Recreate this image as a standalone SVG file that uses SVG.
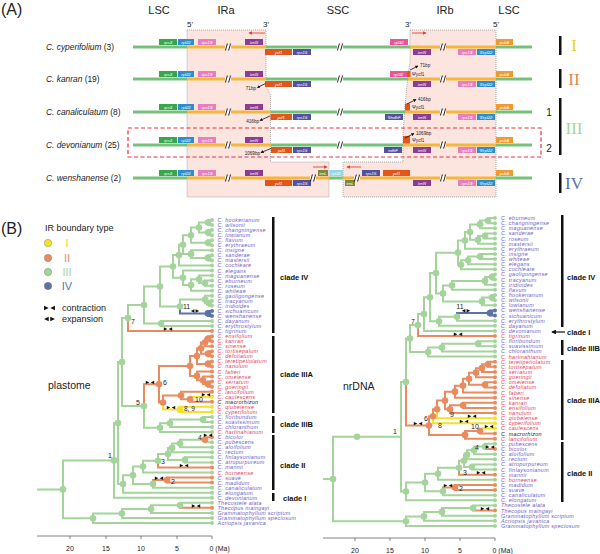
<svg xmlns="http://www.w3.org/2000/svg" width="600" height="554" viewBox="0 0 600 554">
<defs>
<style>
text{font-family:"Liberation Sans",Arial,sans-serif}
.hd{font-size:16px;fill:#222}
.reg{font-size:11px;fill:#222;text-anchor:middle}
.end{font-size:8px;fill:#222;text-anchor:middle}
.sp{font-size:8.4px;fill:#222}
.gt{font-size:4.2px;fill:#fff;font-style:italic;text-anchor:middle}
.ann{font-size:4.6px;fill:#222}
.lg{stroke:#76c17a;stroke-width:3.2;fill:none}
.lo{stroke:#f5b63c;stroke-width:3.2;fill:none}
.ir{fill:#fce4df;stroke:#8a8a8a;stroke-width:0.7;stroke-dasharray:1 1}
.brk{stroke:#111;stroke-width:0.9}
.c3{fill:#36a849}.c22{fill:#2b8fcf}.c19{fill:#e67fc0}.cN{fill:#8a3c96}.cy{fill:#e2561b}
.c15{fill:#5452a0}.c32{fill:#e9559a}.c32b{fill:#96d6ea}.cA{fill:#f39a2e}.cL{fill:#7b8a3a}
.ba{stroke:#111;stroke-width:0.8;fill:none;marker-end:url(#ab)}
.ra{stroke:#e8403a;stroke-width:0.9;fill:none;marker-end:url(#ar)}
.bar{fill:#111}
.rom{font-family:"Liberation Serif",serif;font-size:17px;text-anchor:middle}
.tg{stroke:#a4d49c;stroke-width:2;fill:none}
.to{stroke:#e98b5f;stroke-width:2;fill:none}
.ty{stroke:#f6e02a;stroke-width:2;fill:none}
.tb{stroke:#5a72a5;stroke-width:2;fill:none}
.dg{fill:#a4d49c}.do{fill:#e98b5f}.dy{fill:#f6e02a}.db{fill:#5a72a5}
.tl{font-size:5.4px;font-style:italic;letter-spacing:0.3px}
.pu{fill:#6d62c6}.rd{fill:#e5405a}.bk{fill:#222}
.num{font-size:7px;fill:#222;text-anchor:middle}
.cl{font-size:7.5px;font-weight:bold;fill:#111}
.ax{stroke:#666;stroke-width:0.8;fill:none}
.axt{font-size:7px;fill:#222;text-anchor:middle}
.lab{font-size:10.5px;fill:#222}
</style>
<marker id="ab" viewBox="0 0 6 6" refX="5" refY="3" markerWidth="4" markerHeight="4" orient="auto"><path d="M0,0L6,3L0,6z" fill="#111"/></marker>
<marker id="ar" viewBox="0 0 6 6" refX="5" refY="3" markerWidth="4" markerHeight="4" orient="auto"><path d="M0,0L6,3L0,6z" fill="#e8403a"/></marker>
<g id="con"><path d="M-4.2,-1.7L-0.6,0L-4.2,1.7zM4.2,-1.7L0.6,0L4.2,1.7z" fill="#111"/></g>
<g id="exp"><path d="M-0.6,-1.7L-4.2,0L-0.6,1.7zM0.6,-1.7L4.2,0L0.6,1.7z" fill="#111"/></g>
<g id="brk"><rect x="-3" y="-2" width="6" height="4" fill="#fff"/><path class="brk" d="M-2.6,3.5L-0.6,-3.5M0.6,3.5L2.6,-3.5"/></g>
<g id="common">
<rect class="c3" x="159" y="-8" width="18" height="6"/><text class="gt" x="168" y="-3.5">rps3</text>
<rect class="c22" x="178" y="-8" width="16" height="6"/><text class="gt" x="186" y="-3.5">rpl22</text>
<rect class="c19" x="198" y="-8" width="18" height="6"/><text class="gt" x="207" y="-3.5">rps19</text>
<rect class="cN" x="245" y="-8" width="18" height="6"/><text class="gt" x="254" y="-3.5">trnN</text>
<rect class="cN" x="413" y="2" width="18" height="6"/><text class="gt" x="422" y="6.5">trnN</text>
<rect class="c19" x="458" y="2" width="18" height="6"/><text class="gt" x="467" y="6.5">rps19</text>
<rect class="c22" x="477" y="2" width="18" height="6"/><text class="gt" x="486" y="6.5">Ψrpl22</text>
<rect class="cA" x="496" y="-8" width="17" height="6"/><text class="gt" x="504.5" y="-3.5">psbA</text>
<use href="#brk" x="228" y="0"/><use href="#brk" x="443" y="0"/>
</g>
</defs>
<rect width="600" height="554" fill="#fff"/>

<g id="panelA">
<text class="hd" x="1" y="15">(A)</text>
<text class="reg" x="159" y="14">LSC</text>
<text class="reg" x="226" y="14">IRa</text>
<text class="reg" x="338" y="14">SSC</text>
<text class="reg" x="445" y="14">IRb</text>
<text class="reg" x="509" y="14">LSC</text>
<text class="end" x="190" y="27">5'</text>
<text class="end" x="266" y="27">3'</text>
<text class="end" x="408" y="27">3'</text>
<text class="end" x="496" y="27">5'</text>
<polygon id="IRa" class="ir" points="187,30 266,30 266,86 270.5,95 270.5,162 329,162 329,197 187,197"/>
<polygon id="IRb" class="ir" points="410,30 496,30 496,197 343,197 343,162 403,162 403,135 405,105 408,75 410,62"/>
<rect x="128" y="128" width="413" height="29" fill="none" stroke="#e8323c" stroke-width="1.2" stroke-dasharray="4 2.5"/>
<g id="redarrows">
<path class="ra" d="M265,33H249"/><path class="ra" d="M412,33H426"/>
<path class="ra" d="M313,167H327"/><path class="ra" d="M361,167H347"/>
</g>

<g id="row1" transform="translate(0,47)">
<path class="lg" d="M133,0H187M266,0H410M496,0H532"/><path class="lo" d="M187,0H266M410,0H496"/>
<use href="#common"/>
<rect class="cy" x="265" y="2" width="27" height="6"/><text class="gt" x="278.5" y="6.5">ycf1</text>
<rect class="c15" x="293" y="2" width="18" height="6"/><text class="gt" x="302" y="6.5">rps15</text>
<rect class="c32" x="390" y="-8" width="18" height="6"/><text class="gt" x="399" y="-3.5">rpl32</text>
<use href="#brk" x="340" y="0"/>
<text class="sp" x="46" y="2.8"><tspan font-style="italic">C. cyperifolium</tspan> (3)</text>
</g>
<g id="row2" transform="translate(0,79)">
<path class="lg" d="M133,0H187M266,0H408M496,0H532"/><path class="lo" d="M187,0H266M408,0H496"/>
<use href="#common"/>
<rect class="cy" x="265" y="2" width="27" height="6"/><text class="gt" x="278.5" y="6.5">ycf1</text>
<rect class="c15" x="293" y="2" width="18" height="6"/><text class="gt" x="302" y="6.5">rps15</text>
<rect class="c32" x="390" y="-8" width="17" height="6"/><text class="gt" x="398.5" y="-3.5">rpl32</text>
<rect class="cy" x="407" y="-8" width="3.5" height="6"/>
<use href="#brk" x="340" y="0"/>
<path class="ba" d="M265.5,4.5L257.5,8.5"/><text class="ann" x="256" y="10.5" text-anchor="end">71bp</text>
<path class="ba" d="M410,-9L418,-13"/><text class="ann" x="420" y="-12">71bp</text>
<text class="ann" x="412" y="-3.5">Ψycf1</text>
<text class="sp" x="46" y="2.8"><tspan font-style="italic">C. kanran</tspan> (19)</text>
</g>
<g id="row3" transform="translate(0,112)">
<path class="lg" d="M133,0H187M270.5,0H405M496,0H532"/><path class="lo" d="M187,0H270.5M405,0H496"/>
<use href="#common"/>
<rect class="cy" x="270.5" y="2" width="21.5" height="6"/><text class="gt" x="281" y="6.5">ycf1</text>
<rect class="c15" x="293" y="2" width="18" height="6"/><text class="gt" x="302" y="6.5">rps15</text>
<rect class="c15" x="385" y="2" width="18" height="6"/><text class="gt" x="394" y="6.5">ΨndhF</text>
<rect class="cy" x="405" y="-8.5" width="5" height="7"/>
<use href="#brk" x="340" y="0"/>
<path class="ba" d="M270,4L260,8.5"/><text class="ann" x="259" y="10.5" text-anchor="end">416bp</text>
<path class="ba" d="M407,-8L416,-12.5"/><text class="ann" x="418" y="-11.5">416bp</text>
<text class="ann" x="412" y="-3">Ψycf1</text>
<text class="sp" x="46" y="2.8"><tspan font-style="italic">C. canaliculatum</tspan> (8)</text>
</g>
<g id="row4" transform="translate(0,145)">
<path class="lg" d="M133,0H187M271,0H403M496,0H532"/><path class="lo" d="M187,0H271M403,0H496"/>
<use href="#common"/>
<rect class="cy" x="271" y="2" width="21" height="6"/><text class="gt" x="281.5" y="6.5">ycf1</text>
<rect class="c15" x="293" y="2" width="18" height="6"/><text class="gt" x="302" y="6.5">rps15</text>
<rect class="c15" x="384" y="2" width="18" height="6"/><text class="gt" x="393" y="6.5">ndhF</text>
<rect class="cy" x="403" y="-9" width="7" height="7.5"/>
<use href="#brk" x="340" y="0"/>
<path class="ba" d="M271,3.5L261,7.5"/><text class="ann" x="260" y="9.5" text-anchor="end">1069bp</text>
<path class="ba" d="M405,-7L414,-11.5"/><text class="ann" x="416" y="-10.5">1069bp</text>
<text class="ann" x="412" y="-3.5">Ψycf1</text>
<text class="sp" x="46" y="2.8"><tspan font-style="italic">C. devonianum</tspan> (25)</text>
</g>
<g id="row5" transform="translate(0,178)">
<path class="lg" d="M133,0H187M329,0H343M496,0H532"/><path class="lo" d="M187,0H329M343,0H496"/>
<use href="#common"/>
<rect class="cy" x="265" y="2" width="27" height="6"/><text class="gt" x="278.5" y="6.5">ycf1</text>
<rect class="c15" x="293" y="2" width="18" height="6"/><text class="gt" x="302" y="6.5">rps15</text>
<rect class="cL" x="318" y="-8" width="10" height="6"/><text class="gt" x="323" y="-3.5">trnL</text>
<rect class="c32b" x="329.5" y="-8" width="13.5" height="6"/><text class="gt" x="336" y="-3.5">rpl32</text>
<rect class="cL" x="345" y="2" width="10" height="6"/><text class="gt" x="350" y="6.5">trnL</text>
<rect class="c15" x="362" y="-8" width="18" height="6"/><text class="gt" x="371" y="-3.5">rps15</text>
<rect class="cy" x="383" y="-8" width="27" height="6"/><text class="gt" x="396.5" y="-3.5">ycf1</text>
<use href="#brk" x="313" y="0"/><use href="#brk" x="357" y="0"/>
<text class="sp" x="46" y="2.8"><tspan font-style="italic">C. wenshanense</tspan> (2)</text>
</g>
<g id="typebars">
<rect class="bar" x="559" y="36" width="2.5" height="19"/>
<rect class="bar" x="559" y="69" width="2.5" height="19"/>
<rect class="bar" x="559" y="98" width="2.5" height="57"/>
<rect class="bar" x="559" y="173" width="2.5" height="20"/>
<text class="rom" x="574" y="51" fill="#efd21c">I</text>
<text class="rom" x="574" y="85" fill="#e8844c">II</text>
<text class="rom" x="574" y="134" fill="#a5d6a0">III</text>
<text class="rom" x="574" y="189" fill="#5b72a8">IV</text>
<text x="549" y="116" font-size="10" fill="#222" text-anchor="middle">1</text>
<text x="549" y="152" font-size="10" fill="#222" text-anchor="middle">2</text>
</g>
</g>

<g id="legendB">
<text class="hd" x="1" y="234">(B)</text>
<text x="45" y="231" font-size="9" fill="#222">IR boundary type</text>
<circle cx="48" cy="243" r="3.7" fill="#f6e02a" stroke="#777" stroke-width="0.4"/>
<circle cx="48" cy="258" r="3.7" fill="#e98b5f" stroke="#777" stroke-width="0.4"/>
<circle cx="48" cy="272" r="3.7" fill="#a4d49c" stroke="#777" stroke-width="0.4"/>
<circle cx="48" cy="286" r="3.7" fill="#5a72a5" stroke="#777" stroke-width="0.4"/>
<text x="67" y="247" font-size="11" fill="#f0d21c" text-anchor="middle">I</text>
<text x="67" y="262" font-size="11" fill="#e98b5f" text-anchor="middle">II</text>
<text x="67" y="276" font-size="11" fill="#a4d49c" text-anchor="middle">III</text>
<text x="67" y="290" font-size="11" fill="#5a72a5" text-anchor="middle">IV</text>
<use href="#con" transform="translate(49.5,308) scale(1.3)"/>
<text x="62" y="311" font-size="9" fill="#222">contraction</text>
<use href="#exp" transform="translate(49.5,319) scale(1.3)"/>
<text x="62" y="322" font-size="9" fill="#222">expansion</text>
<text class="lab" x="48" y="389">plastome</text>
<text class="lab" x="343" y="390">nrDNA</text>
</g>

<g id="plastomeTree">
<g id="lt-connectors">
<path class="tg" d="M212 220H208V225.05H212M212 230.1H208V235.15H212M208 222.5H199V232.6H208M212 240.2H208V245.25H212M199 227.6H191V242.7H208M212 255.35H208V260.4H212M212 250.3H191V257.9H208M191 235.2H183V254.1H191M183 244.7H179V265.45H212M212 280.6H205V285.65H212M212 275.55H199V283.1H205M199 279.3H191V290.7H212M212 270.5H183V285H191M179 255.1H173V277.8H183M212 300.8H209V305.85H212M212 295.75H205V303.3H209M205 299.5H180V306.5M173 266.5H160V306.5H180M212 321H161V326.05H212M160 286.5H144V323.5H161M144 305H128V318.1M144 406V427.7H160M212 416.95H203V422H212M203 419.5H170V427.05H212M170 423.3H160V432.1H212M128 318.1H122V406H144M205 439.7V442.2H212M205 439.7H180V447.25H212M180 443.5H172V452.3H212M212 457.35H185V462.4H212M172 447.9H168V459.9H185M168 453.9H158V460.7M158 460.7H143V472.5H212M153 483.9V487.65H212M143 466.6H133V483.9H153M133 475.3H123V492.7H212M122 362H118V484H123M118 423H114V497.75H212M212 502.8H180V505.3M180 505.3H151V512.9H212M151 509.1H122V517.95H212M122 513.5H93V523H212M114 460.4H63V518.3H93M37 489.4H63"/>
<path class="tb" d="M180 306.5V313.4H208M212 310.9H208V315.95H212"/>
<path class="to" d="M128 318.1V331.1H212M212 336.15H208V341.2H212M208 338.7H205V346.25H212M212 351.3H208V356.35H212M205 342.5H201V353.8H208M212 361.4H208V366.45H212M201 348.2H197V363.9H208M212 381.6H208V386.65H212M212 376.55H203V384.1H208M212 371.5H197V380.3H203M197 356H190V375.9H197M190 399.3V401.8H212M212 391.7H181V399.3H190M181 395.5H163V402.5M190 366H159V402.5H163M159 384.2H144V406M212 437.15H205V439.7M158 460.7V467.45H212M212 477.55H167V482.6H212M167 480.1H153V483.9M180 505.3V507.85H212"/>
<path class="ty" d="M212 396.75H190V399.3M212 406.85H180V411.9H212M163 402.5V409.4H180"/>
</g>
<g id="lt-nodes">
<g class="dg">
<circle cx="208" cy="222.5" r="3.3"/><circle cx="208" cy="232.6" r="3.3"/><circle cx="199" cy="227.6" r="3.3"/><circle cx="208" cy="242.7" r="3.3"/><circle cx="191" cy="235.2" r="3.3"/><circle cx="208" cy="257.9" r="3.3"/><circle cx="191" cy="254.1" r="3.3"/><circle cx="183" cy="244.7" r="3.3"/><circle cx="179" cy="255.1" r="3.3"/><circle cx="205" cy="283.1" r="3.3"/><circle cx="199" cy="279.3" r="3.3"/><circle cx="191" cy="285" r="3.3"/><circle cx="183" cy="277.8" r="3.3"/><circle cx="173" cy="266.5" r="3.3"/><circle cx="209" cy="303.3" r="3.3"/><circle cx="205" cy="299.5" r="3.3"/><circle cx="180" cy="306.5" r="3.3"/><circle cx="160" cy="286.5" r="3.3"/><circle cx="161" cy="323.5" r="3.3"/><circle cx="144" cy="305" r="3.3"/><circle cx="128" cy="318.1" r="3.3"/>
<circle cx="203" cy="419.5" r="3.3"/><circle cx="170" cy="423.3" r="3.3"/><circle cx="160" cy="427.7" r="3.3"/><circle cx="144" cy="406" r="3.3"/><circle cx="122" cy="362" r="3.3"/>
<circle cx="180" cy="443.5" r="3.3"/><circle cx="172" cy="447.9" r="3.3"/><circle cx="185" cy="459.9" r="3.3"/><circle cx="168" cy="453.9" r="3.3"/><circle cx="158" cy="460.7" r="3.3"/><circle cx="143" cy="466.6" r="3.3"/><circle cx="153" cy="483.9" r="3.3"/><circle cx="133" cy="475.3" r="3.3"/><circle cx="123" cy="484" r="3.3"/><circle cx="118" cy="423" r="3.3"/><circle cx="114" cy="460.4" r="3.3"/>
<circle cx="180" cy="505.3" r="3.3"/><circle cx="151" cy="509.1" r="3.3"/><circle cx="122" cy="513.5" r="3.3"/><circle cx="93" cy="518.3" r="3.3"/><circle cx="63" cy="489.4" r="3.3"/>
</g>
<g class="do">
<circle cx="208" cy="338.7" r="3.3"/><circle cx="205" cy="342.5" r="3.3"/><circle cx="208" cy="353.8" r="3.3"/><circle cx="201" cy="348.2" r="3.3"/><circle cx="208" cy="363.9" r="3.3"/><circle cx="197" cy="356" r="3.3"/><circle cx="208" cy="384.1" r="3.3"/><circle cx="203" cy="380.3" r="3.3"/><circle cx="197" cy="375.9" r="3.3"/><circle cx="190" cy="366" r="3.3"/><circle cx="190" cy="399.3" r="3.3"/><circle cx="181" cy="395.5" r="3.3"/><circle cx="163" cy="402.5" r="3.3"/><circle cx="159" cy="384.2" r="3.3"/><circle cx="167" cy="480.1" r="3.3"/><circle cx="205" cy="439.7" r="3.3"/>
</g>
<circle class="dy" cx="180" cy="409.4" r="3.3"/>
<circle class="db" cx="208" cy="313.4" r="3.3"/>
</g>
<g id="lt-tipdots">
<g class="dg"><circle cx="212" cy="220" r="2"/><circle cx="212" cy="225.05" r="2"/><circle cx="212" cy="230.1" r="2"/><circle cx="212" cy="235.15" r="2"/><circle cx="212" cy="240.2" r="2"/><circle cx="212" cy="245.25" r="2"/><circle cx="212" cy="250.3" r="2"/><circle cx="212" cy="255.35" r="2"/><circle cx="212" cy="260.4" r="2"/><circle cx="212" cy="265.45" r="2"/><circle cx="212" cy="270.5" r="2"/><circle cx="212" cy="275.55" r="2"/><circle cx="212" cy="280.6" r="2"/><circle cx="212" cy="285.65" r="2"/><circle cx="212" cy="290.7" r="2"/><circle cx="212" cy="295.75" r="2"/><circle cx="212" cy="300.8" r="2"/><circle cx="212" cy="305.85" r="2"/><circle cx="212" cy="321" r="2"/><circle cx="212" cy="326.05" r="2"/><circle cx="212" cy="416.95" r="2"/><circle cx="212" cy="422" r="2"/><circle cx="212" cy="427.05" r="2"/><circle cx="212" cy="432.1" r="2"/><circle cx="212" cy="442.2" r="2"/><circle cx="212" cy="447.25" r="2"/><circle cx="212" cy="452.3" r="2"/><circle cx="212" cy="457.35" r="2"/><circle cx="212" cy="462.4" r="2"/><circle cx="212" cy="472.5" r="2"/><circle cx="212" cy="487.65" r="2"/><circle cx="212" cy="492.7" r="2"/><circle cx="212" cy="497.75" r="2"/><circle cx="212" cy="502.8" r="2"/><circle cx="212" cy="512.9" r="2"/><circle cx="212" cy="517.95" r="2"/><circle cx="212" cy="523" r="2"/></g>
<g class="do"><circle cx="212" cy="331.1" r="2"/><circle cx="212" cy="336.15" r="2"/><circle cx="212" cy="341.2" r="2"/><circle cx="212" cy="346.25" r="2"/><circle cx="212" cy="351.3" r="2"/><circle cx="212" cy="356.35" r="2"/><circle cx="212" cy="361.4" r="2"/><circle cx="212" cy="366.45" r="2"/><circle cx="212" cy="371.5" r="2"/><circle cx="212" cy="376.55" r="2"/><circle cx="212" cy="381.6" r="2"/><circle cx="212" cy="386.65" r="2"/><circle cx="212" cy="391.7" r="2"/><circle cx="212" cy="401.8" r="2"/><circle cx="212" cy="437.15" r="2"/><circle cx="212" cy="467.45" r="2"/><circle cx="212" cy="477.55" r="2"/><circle cx="212" cy="482.6" r="2"/><circle cx="212" cy="507.85" r="2"/></g>
<g class="dy"><circle cx="212" cy="396.75" r="2"/><circle cx="212" cy="406.85" r="2"/><circle cx="212" cy="411.9" r="2"/></g>
<g class="db"><circle cx="212" cy="310.9" r="2"/><circle cx="212" cy="315.95" r="2"/></g>
</g>
<g id="lt-marks">
<use href="#con" x="168" y="329"/><use href="#exp" x="195" y="311"/><use href="#con" x="150" y="382.4"/><use href="#con" x="171" y="407.6"/><use href="#con" x="206" y="394.8"/><use href="#con" x="208" y="435.3"/><use href="#con" x="184" y="465.6"/><use href="#con" x="159" y="478.3"/><use href="#con" x="196" y="506"/>
<text class="num" x="110" y="458">1</text><text class="num" x="138" y="405">5</text><text class="num" x="165" y="384.5">6</text><text class="num" x="133" y="323.5">7</text><text x="184" y="410.8" font-size="6.5" fill="#222">8, 9</text><text class="num" x="199" y="401.5">10</text><text x="183" y="308.5" font-size="7" fill="#222">11</text><text class="num" x="200" y="439.5">4</text><text class="num" x="163" y="464">3</text><text class="num" x="173" y="483.5">2</text>
</g>
<g id="lt-tips" class="tl">
<text class="pu" x="217.5" y="222">C. hookerianum</text>
<text class="pu" x="217.5" y="227.05">C. wilsonii</text>
<text class="pu" x="217.5" y="232.1">C. changningense</text>
<text class="pu" x="217.5" y="237.15">C. lowianum</text>
<text class="pu" x="217.5" y="242.2">C. flavum</text>
<text class="pu" x="217.5" y="247.25">C. erythraeum</text>
<text class="pu" x="217.5" y="252.3">C. insigne</text>
<text class="pu" x="217.5" y="257.35">C. sanderae</text>
<text class="pu" x="217.5" y="262.4">C. mastersii</text>
<text class="pu" x="217.5" y="267.45">C. cochleare</text>
<text class="pu" x="217.5" y="272.5">C. elegans</text>
<text class="pu" x="217.5" y="277.55">C. maguanense</text>
<text class="pu" x="217.5" y="282.6">C. eburneum</text>
<text class="pu" x="217.5" y="287.65">C. roseum</text>
<text class="pu" x="217.5" y="292.7">C. whiteae</text>
<text class="pu" x="217.5" y="297.75">C. gaoligongense</text>
<text class="pu" x="217.5" y="302.8">C. tracyanum</text>
<text class="pu" x="217.5" y="307.85">C. iridioides</text>
<text class="pu" x="217.5" y="312.9">C. sichuanicum</text>
<text class="pu" x="217.5" y="317.95">C. wenshanense</text>
<text class="pu" x="217.5" y="323">C. dayanum</text>
<text class="pu" x="217.5" y="328.05">C. erythrostylum</text>
<text class="pu" x="217.5" y="333.1">C. tigrinum</text>
<text class="rd" x="217.5" y="338.15">C. ensifolium</text>
<text class="rd" x="217.5" y="343.2">C. kanran</text>
<text class="rd" x="217.5" y="348.25">C. sinense</text>
<text class="rd" x="217.5" y="353.3">C. tortisepalum</text>
<text class="rd" x="217.5" y="358.35">C. defoliatum</text>
<text class="rd" x="217.5" y="363.4">C. teretipetiolatum</text>
<text class="rd" x="217.5" y="368.45">C. nanulum</text>
<text class="rd" x="217.5" y="373.5">C. faberi</text>
<text class="rd" x="217.5" y="378.55">C. omeiense</text>
<text class="rd" x="217.5" y="383.6">C. serratum</text>
<text class="rd" x="217.5" y="388.65">C. goeringii</text>
<text class="rd" x="217.5" y="393.7">C. lancifolium</text>
<text class="rd" x="217.5" y="398.75">C. caulescens</text>
<text class="bk" x="217.5" y="403.8">C. macrorhizon</text>
<text class="rd" x="217.5" y="408.85">C. qiubeiense</text>
<text class="rd" x="217.5" y="413.9">C. cyperifolium</text>
<text class="pu" x="217.5" y="418.95">C. floribundum</text>
<text class="pu" x="217.5" y="424">C. suavissimum</text>
<text class="pu" x="217.5" y="429.05">C. chloranthum</text>
<text class="rd" x="217.5" y="434.1">C. hartinahianum</text>
<text class="pu" x="217.5" y="439.15">C. bicolor</text>
<text class="pu" x="217.5" y="444.2">C. pubescens</text>
<text class="pu" x="217.5" y="449.25">C. aloifolium</text>
<text class="pu" x="217.5" y="454.3">C. rectum</text>
<text class="pu" x="217.5" y="459.35">C. finlaysonianum</text>
<text class="pu" x="217.5" y="464.4">C. atropurpureum</text>
<text class="pu" x="217.5" y="469.45">C. mannii</text>
<text class="rd" x="217.5" y="474.5">C. borneense</text>
<text class="pu" x="217.5" y="479.55">C. suave</text>
<text class="pu" x="217.5" y="484.6">C. madidum</text>
<text class="pu" x="217.5" y="489.65">C. canaliculatum</text>
<text class="pu" x="217.5" y="494.7">C. elongatum</text>
<text class="pu" x="217.5" y="499.75">C. devonianum</text>
<text class="pu" x="217.5" y="504.8">Thecostele alata</text>
<text class="pu" x="217.5" y="509.85">Thecopus maingayi</text>
<text class="pu" x="217.5" y="514.9">Grammatophyllum scriptum</text>
<text class="pu" x="217.5" y="519.95">Grammatophyllum speciosum</text>
<text class="pu" x="217.5" y="525">Acriopsis javanica</text>
</g>
<g id="lt-clades">
<rect class="bar" x="272" y="217" width="2.5" height="116"/>
<rect class="bar" x="272" y="336" width="2.5" height="77"/>
<rect class="bar" x="272" y="416" width="2.5" height="17"/>
<rect class="bar" x="272" y="435" width="2.5" height="55"/>
<rect class="bar" x="272" y="493" width="2.5" height="8"/>
<text class="cl" x="280" y="279.5">clade IV</text>
<text class="cl" x="280" y="377">clade IIIA</text>
<text class="cl" x="280" y="427">clade IIIB</text>
<text class="cl" x="280" y="467.5">clade II</text>
<text class="cl" x="283" y="500.5">clade I</text>
</g>
<g id="lt-axis">
<path class="ax" d="M37 536H212M70 536V539M106 536V539M141 536V539M177 536V539M212 536V539"/>
<text class="axt" x="70" y="551">20</text><text class="axt" x="106" y="551">15</text><text class="axt" x="141" y="551">10</text><text class="axt" x="177" y="551">5</text><text x="209.5" y="551" font-size="7" fill="#222">0 (Ma)</text>
</g>
</g>

<g id="nrDNATree">
<g id="rt-connectors">
<path class="tg" d="M495 218H488V223.13H495M488 220.57H480V228.27H495M495 233.4H485V238.53H495M485 235.97H478V243.67H495M480 224.4H470V239.8H478M470 232.1H465V248.8H495M495 253.93H480V259.07H495M480 256.5H468V264.2H495M468 260.35H461V269.33H495M465 240.45H458V264.84H461M495 274.47H492V279.6H495M492 277.03H485V284.73H495M485 280.88H452V289.87H495M495 295H492V300.13H495M492 297.57H482V305.27H495M452 285.38H443V301.42H482M458 252.65H436V293.4H443M457 316.8V320.67H495M457 316.8H439V325.8H495M436 273H430V321.3H439M430 297.2H424V330.93H495M424 314.1H418V325.1M495 341.2H478V346.33H495M478 343.77H442V351.47H495M442 347.6H428V356.6H495M418 325.1H410V352.1H428M410 338.6H406V382.1M495 443.87H485V446.43M485 446.43H474V454.13H495M474 450.28H467V459.27H495M495 464.4H472V469.53H495M467 454.78H464V466.97H472M464 460.87H459V467.77M459 467.77H438V479.8H495M443 491.35V495.2H495M438 473.78H425V491.35H443M425 482.57H406V500.33H495M406 382.1H401V491.45H406M495 505.47H473V508.03M473 508.03H442V515.73H495M442 511.88H424V520.87H495M424 516.38H406V526H495M401 436.78H333V521.19H406M323 479H333"/>
<path class="tb" d="M495 310.4H490V315.53H495M490 312.97H457V316.8"/>
<path class="to" d="M418 325.1V336.07H495M406 382.1V425.6H429M495 361.73H488V366.87H495M488 364.3H482V372H495M482 368.15H476V377.13H495M495 382.27H485V387.4H495M476 372.64H469V384.84H485M469 378.74H463V392.53H495M463 385.64H455V397.67H495M495 402.8H463V407.93H495M463 405.37H450V413.07H495M455 391.65H445V409.22H450M445 400.43H437V409.32M437 409.32H433V416.33M480 431.03V433.6H495M480 431.03H465V438.73H495M433 416.33H429V434.88H465M485 446.43V449H495M459 467.77V474.67H495M495 484.93H455V490.07H495M455 487.5H443V491.35M473 508.03V510.6H495"/>
<path class="ty" d="M437 409.32V418.2H495M433 416.33V423.33H495M495 428.47H480V431.03"/>
</g>
<g id="rt-nodes">
<g class="dg">
<circle cx="488" cy="220.57" r="3.3"/><circle cx="480" cy="224.4" r="3.3"/><circle cx="485" cy="235.97" r="3.3"/><circle cx="478" cy="239.8" r="3.3"/><circle cx="470" cy="232.1" r="3.3"/><circle cx="465" cy="240.45" r="3.3"/><circle cx="480" cy="256.5" r="3.3"/><circle cx="468" cy="260.35" r="3.3"/><circle cx="461" cy="264.84" r="3.3"/><circle cx="458" cy="252.65" r="3.3"/><circle cx="492" cy="277.03" r="3.3"/><circle cx="485" cy="280.88" r="3.3"/><circle cx="452" cy="285.38" r="3.3"/><circle cx="492" cy="297.57" r="3.3"/><circle cx="482" cy="301.42" r="3.3"/><circle cx="443" cy="293.4" r="3.3"/><circle cx="436" cy="273" r="3.3"/><circle cx="457" cy="316.8" r="3.3"/><circle cx="439" cy="321.3" r="3.3"/><circle cx="430" cy="297.2" r="3.3"/><circle cx="424" cy="314.1" r="3.3"/><circle cx="418" cy="325.1" r="3.3"/><circle cx="478" cy="343.77" r="3.3"/><circle cx="442" cy="347.6" r="3.3"/><circle cx="428" cy="352.1" r="3.3"/><circle cx="410" cy="338.6" r="3.3"/><circle cx="406" cy="382.1" r="3.3"/>
<circle cx="485" cy="446.43" r="3.3"/><circle cx="474" cy="450.28" r="3.3"/><circle cx="467" cy="454.78" r="3.3"/><circle cx="472" cy="466.97" r="3.3"/><circle cx="464" cy="460.87" r="3.3"/><circle cx="459" cy="467.77" r="3.3"/><circle cx="438" cy="473.78" r="3.3"/><circle cx="443" cy="491.35" r="3.3"/><circle cx="425" cy="482.57" r="3.3"/><circle cx="406" cy="491.45" r="3.3"/>
<circle cx="473" cy="508.03" r="3.3"/><circle cx="442" cy="511.88" r="3.3"/><circle cx="424" cy="516.38" r="3.3"/><circle cx="406" cy="521.19" r="3.3"/><circle cx="333" cy="478.99" r="3.3"/><circle cx="357" cy="436.78" r="3.3"/>
</g>
<g class="do">
<circle cx="488" cy="364.3" r="3.3"/><circle cx="482" cy="368.15" r="3.3"/><circle cx="476" cy="372.64" r="3.3"/><circle cx="485" cy="384.84" r="3.3"/><circle cx="469" cy="378.74" r="3.3"/><circle cx="463" cy="385.64" r="3.3"/><circle cx="455" cy="391.65" r="3.3"/><circle cx="463" cy="405.37" r="3.3"/><circle cx="450" cy="409.22" r="3.3"/><circle cx="445" cy="400.43" r="3.3"/><circle cx="437" cy="409.32" r="3.3"/><circle cx="433" cy="416.33" r="3.3"/><circle cx="480" cy="431.03" r="3.3"/><circle cx="465" cy="434.88" r="3.3"/><circle cx="429" cy="425.6" r="3.3"/><circle cx="455" cy="487.5" r="3.3"/>
</g>
<circle class="db" cx="490" cy="312.97" r="3.3"/>
</g>
<g id="rt-tipdots">
<g class="dg"><circle cx="495" cy="218" r="2"/><circle cx="495" cy="223.13" r="2"/><circle cx="495" cy="228.27" r="2"/><circle cx="495" cy="233.4" r="2"/><circle cx="495" cy="238.53" r="2"/><circle cx="495" cy="243.67" r="2"/><circle cx="495" cy="248.8" r="2"/><circle cx="495" cy="253.93" r="2"/><circle cx="495" cy="259.07" r="2"/><circle cx="495" cy="264.2" r="2"/><circle cx="495" cy="269.33" r="2"/><circle cx="495" cy="274.47" r="2"/><circle cx="495" cy="279.6" r="2"/><circle cx="495" cy="284.73" r="2"/><circle cx="495" cy="289.87" r="2"/><circle cx="495" cy="295" r="2"/><circle cx="495" cy="300.13" r="2"/><circle cx="495" cy="305.27" r="2"/><circle cx="495" cy="320.67" r="2"/><circle cx="495" cy="325.8" r="2"/><circle cx="495" cy="330.93" r="2"/><circle cx="495" cy="341.2" r="2"/><circle cx="495" cy="346.33" r="2"/><circle cx="495" cy="351.47" r="2"/><circle cx="495" cy="356.6" r="2"/><circle cx="495" cy="443.87" r="2"/><circle cx="495" cy="454.13" r="2"/><circle cx="495" cy="459.27" r="2"/><circle cx="495" cy="464.4" r="2"/><circle cx="495" cy="469.53" r="2"/><circle cx="495" cy="479.8" r="2"/><circle cx="495" cy="495.2" r="2"/><circle cx="495" cy="500.33" r="2"/><circle cx="495" cy="505.47" r="2"/><circle cx="495" cy="515.73" r="2"/><circle cx="495" cy="520.87" r="2"/><circle cx="495" cy="526" r="2"/></g>
<g class="do"><circle cx="495" cy="336.07" r="2"/><circle cx="495" cy="361.73" r="2"/><circle cx="495" cy="366.87" r="2"/><circle cx="495" cy="372" r="2"/><circle cx="495" cy="377.13" r="2"/><circle cx="495" cy="382.27" r="2"/><circle cx="495" cy="387.4" r="2"/><circle cx="495" cy="392.53" r="2"/><circle cx="495" cy="397.67" r="2"/><circle cx="495" cy="402.8" r="2"/><circle cx="495" cy="407.93" r="2"/><circle cx="495" cy="413.07" r="2"/><circle cx="495" cy="433.6" r="2"/><circle cx="495" cy="438.73" r="2"/><circle cx="495" cy="449" r="2"/><circle cx="495" cy="474.67" r="2"/><circle cx="495" cy="484.93" r="2"/><circle cx="495" cy="490.07" r="2"/><circle cx="495" cy="510.6" r="2"/></g>
<g class="dy"><circle cx="495" cy="418.2" r="2"/><circle cx="495" cy="423.33" r="2"/><circle cx="495" cy="428.47" r="2"/></g>
<g class="db"><circle cx="495" cy="310.4" r="2"/><circle cx="495" cy="315.53" r="2"/></g>
</g>
<g id="rt-marks">
<use href="#exp" x="466" y="310.8"/><use href="#con" x="458" y="334.2"/><use href="#con" x="418" y="423.6"/><use href="#con" x="472" y="416.3"/><use href="#con" x="464" y="421.4"/><use href="#con" x="489" y="426.6"/><use href="#con" x="490" y="447.1"/><use href="#con" x="481" y="472.8"/><use href="#con" x="448" y="485.6"/><use href="#con" x="485" y="508.7"/>
<text class="num" x="395" y="434">1</text><text class="num" x="426" y="421">6</text><text class="num" x="413" y="324">7</text><text class="num" x="440" y="428">8</text><text class="num" x="452" y="416.5">9</text><text class="num" x="475" y="428.5">10</text><text class="num" x="460" y="309">11</text><text class="num" x="477" y="449.5">4</text><text class="num" x="465" y="475">3</text><text class="num" x="461" y="490.5">2</text>
</g>
<g id="rt-tips" class="tl">
<text class="pu" x="501" y="220">C. eburneum</text>
<text class="pu" x="501" y="225.13">C. changningense</text>
<text class="pu" x="501" y="230.27">C. maguanense</text>
<text class="pu" x="501" y="235.4">C. sanderae</text>
<text class="pu" x="501" y="240.53">C. roseum</text>
<text class="pu" x="501" y="245.67">C. mastersii</text>
<text class="pu" x="501" y="250.8">C. erythraeum</text>
<text class="pu" x="501" y="255.93">C. insigne</text>
<text class="pu" x="501" y="261.07">C. whiteae</text>
<text class="pu" x="501" y="266.2">C. elegans</text>
<text class="pu" x="501" y="271.33">C. cochleare</text>
<text class="pu" x="501" y="276.47">C. gaoligongense</text>
<text class="pu" x="501" y="281.6">C. tracyanum</text>
<text class="pu" x="501" y="286.73">C. iridioides</text>
<text class="pu" x="501" y="291.87">C. flavum</text>
<text class="pu" x="501" y="297">C. hookerianum</text>
<text class="pu" x="501" y="302.13">C. wilsonii</text>
<text class="pu" x="501" y="307.27">C. lowianum</text>
<text class="pu" x="501" y="312.4">C. wenshanense</text>
<text class="pu" x="501" y="317.53">C. sichuanicum</text>
<text class="pu" x="501" y="322.67">C. erythrostylum</text>
<text class="pu" x="501" y="327.8">C. dayanum</text>
<text class="pu" x="501" y="332.93">C. devonianum</text>
<text class="rd" x="501" y="338.07">C. tigrinum</text>
<text class="pu" x="501" y="343.2">C. floribundum</text>
<text class="pu" x="501" y="348.33">C. suavissimum</text>
<text class="pu" x="501" y="353.47">C. chloranthum</text>
<text class="rd" x="501" y="358.6">C. hartinahianum</text>
<text class="rd" x="501" y="363.73">C. teretipetiolatum</text>
<text class="rd" x="501" y="368.87">C. tortisepalum</text>
<text class="rd" x="501" y="374">C. serratum</text>
<text class="rd" x="501" y="379.13">C. goeringii</text>
<text class="rd" x="501" y="384.27">C. omeiense</text>
<text class="rd" x="501" y="389.4">C. defoliatum</text>
<text class="rd" x="501" y="394.53">C. faberi</text>
<text class="rd" x="501" y="399.67">C. sinense</text>
<text class="rd" x="501" y="404.8">C. kanran</text>
<text class="rd" x="501" y="409.93">C. ensifolium</text>
<text class="rd" x="501" y="415.07">C. nanulum</text>
<text class="rd" x="501" y="420.2">C. qiubeiense</text>
<text class="rd" x="501" y="425.33">C. cyperifolium</text>
<text class="rd" x="501" y="430.47">C. caulescens</text>
<text class="bk" x="501" y="435.6">C. macrorhizon</text>
<text class="rd" x="501" y="440.73">C. lancifolium</text>
<text class="pu" x="501" y="445.87">C. pubescens</text>
<text class="pu" x="501" y="451">C. bicolor</text>
<text class="pu" x="501" y="456.13">C. aloifolium</text>
<text class="pu" x="501" y="461.27">C. rectum</text>
<text class="pu" x="501" y="466.4">C. atropurpureum</text>
<text class="pu" x="501" y="471.53">C. finlaysonianum</text>
<text class="pu" x="501" y="476.67">C. mannii</text>
<text class="rd" x="501" y="481.8">C. borneense</text>
<text class="pu" x="501" y="486.93">C. madidum</text>
<text class="pu" x="501" y="492.07">C. suave</text>
<text class="pu" x="501" y="497.2">C. canaliculatum</text>
<text class="pu" x="501" y="502.33">C. elongatum</text>
<text class="pu" x="501" y="507.47">Thecostele alata</text>
<text class="pu" x="501" y="512.6">Thecopus maingayi</text>
<text class="pu" x="501" y="517.73">Grammatophyllum scriptum</text>
<text class="pu" x="501" y="522.87">Acriopsis javanica</text>
<text class="pu" x="501" y="528">Grammatophyllum speciosum</text>
</g>
<g id="rt-clades">
<rect class="bar" x="561" y="215" width="2.5" height="112"/>
<path d="M565,332H552" stroke="#111" stroke-width="1.2" marker-end="url(#ab)"/>
<rect class="bar" x="561" y="340" width="2.5" height="15"/>
<rect class="bar" x="561" y="360" width="2.5" height="80"/>
<rect class="bar" x="561" y="442" width="2.5" height="60"/>
<text class="cl" x="567" y="279.5">clade IV</text>
<text class="cl" x="567" y="334.7">clade I</text>
<text class="cl" x="567" y="350.5">clade IIIB</text>
<text class="cl" x="567" y="402.5">clade IIIA</text>
<text class="cl" x="567" y="475.5">clade II</text>
</g>
<g id="rt-axis">
<path class="ax" d="M323 538H495M355 538V541M390 538V541M425 538V541M460 538V541M495 538V541"/>
<text class="axt" x="355" y="553">20</text><text class="axt" x="390" y="553">15</text><text class="axt" x="425" y="553">10</text><text class="axt" x="460" y="553">5</text><text x="492.5" y="553" font-size="7" fill="#222">0 (Ma)</text>
</g>
</g>
</svg>
